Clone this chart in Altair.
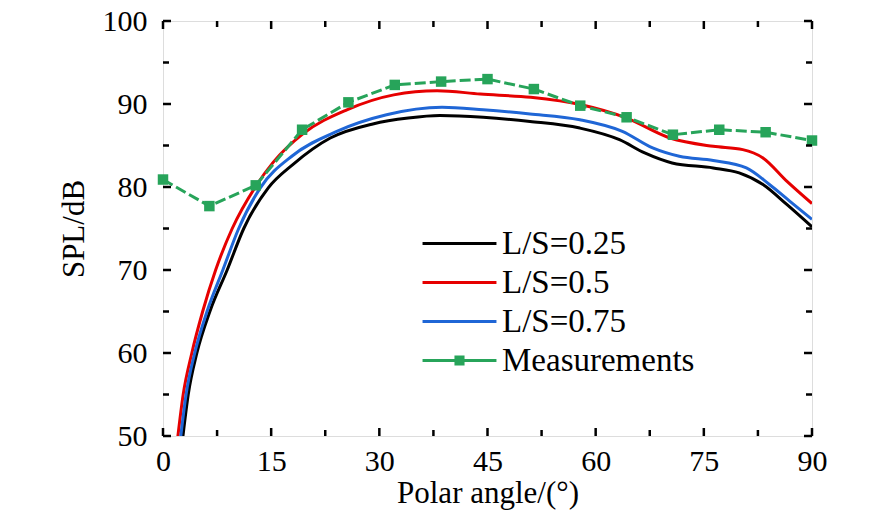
import altair as alt
import pandas as pd

# ---- data ----
series_names = ["L/S=0.25", "L/S=0.5", "L/S=0.75", "Measurements"]

ang_025 = [2.7, 3.5, 4.7, 6.5, 8.9, 11.2, 14.6, 18.0, 23.2, 29.1, 34.0, 38.4, 44.4, 50.9,
           57.8, 63.3, 66.8, 70.6, 76.3, 79.9, 83.2, 86.5, 90.0]
spl_025 = [49.5, 55.0, 60.0, 65.0, 70.0, 75.0, 79.9, 82.7, 85.9, 87.6, 88.3, 88.6, 88.4, 87.9,
           87.1, 85.7, 84.1, 82.9, 82.3, 81.7, 80.3, 77.9, 75.2]

ang_05 = [2.0, 2.8, 4.0, 5.5, 7.3, 9.6, 12.8, 15.3, 19.4, 25.5, 32.0, 38.0, 44.0, 51.0,
          58.0, 64.3, 70.3, 76.3, 80.4, 83.2, 86.5, 90.0]
spl_05 = [49.5, 55.0, 60.0, 65.0, 70.0, 75.0, 80.0, 83.0, 86.4, 89.3, 91.1, 91.6, 91.2, 90.8,
          89.9, 88.3, 85.9, 84.9, 84.5, 83.5, 80.7, 78.0]

ang_075 = [2.4, 3.2, 4.4, 6.1, 8.3, 10.5, 13.5, 18.0, 24.1, 31.0, 38.7, 44.4, 50.9, 57.8,
           63.7, 67.9, 71.6, 76.3, 80.9, 84.1, 86.9, 90.0]
spl_075 = [49.5, 55.0, 60.0, 65.0, 70.0, 75.0, 79.9, 83.8, 86.7, 88.7, 89.6, 89.3, 88.8, 88.1,
           86.7, 84.7, 83.7, 83.2, 82.3, 80.3, 78.3, 76.1]

ang_meas = [0.0, 6.43, 12.86, 19.29, 25.71, 32.14, 38.57, 45.0, 51.43, 57.86, 64.29, 70.71,
            77.14, 83.57, 90.0]
spl_meas = [80.9, 77.7, 80.2, 86.9, 90.2, 92.3, 92.7, 93.0, 91.8, 89.8, 88.4, 86.3,
            86.9, 86.6, 85.6]

x_major = [0, 15, 30, 45, 60, 75, 90]
x_minor = [7.5, 22.5, 37.5, 52.5, 67.5, 82.5]
y_major = [50, 60, 70, 80, 90, 100]
y_minor = [55, 65, 75, 85, 95]

# ---- tables ----
df_025 = pd.DataFrame({"angle": ang_025, "spl": spl_025})
df_05 = pd.DataFrame({"angle": ang_05, "spl": spl_05})
df_075 = pd.DataFrame({"angle": ang_075, "spl": spl_075})
meas = pd.DataFrame({"angle": ang_meas, "spl": spl_meas, "series": series_names[3]})
xt_major = pd.DataFrame({"v": x_major})
xt_minor = pd.DataFrame({"v": x_minor})
yt_major = pd.DataFrame({"v": y_major})
yt_minor = pd.DataFrame({"v": y_minor})

W, H = 649, 415
FONT = "Liberation Serif"
GREEN = "#27a45a"
colors = ["#000000", "#e60000", "#1f66d6", GREEN]
MAJ, MIN = 8, 6

line_path = "M-3.08,-0.13L3.08,-0.13L3.08,0.13L-3.08,0.13Z"
meas_path = ("M-3.08,-0.13L-0.42,-0.13L-0.42,-0.42L0.42,-0.42L0.42,-0.13L3.08,-0.13"
             "L3.08,0.13L0.42,0.13L0.42,0.42L-0.42,0.42L-0.42,0.13L-3.08,0.13Z")

xscale = alt.Scale(domain=[0, 90], nice=False)
yscale = alt.Scale(domain=[50, 100], nice=False)

# L/S=0.25 curve, carries the labelled axes
l025 = alt.Chart(df_025).mark_line(strokeWidth=3, clip=True, interpolate="monotone",
                                   color=colors[0]).encode(
    x=alt.X("angle:Q", scale=xscale,
            axis=alt.Axis(values=x_major, title="Polar angle/(°)", ticks=False,
                          tickSize=0, domain=False, grid=False, labelFont=FONT,
                          labelFontSize=30, labelColor="black", labelPadding=10,
                          titleFont=FONT, titleFontSize=31, titleFontWeight="normal",
                          titleColor="black", titlePadding=2, labelFlush=False)),
    y=alt.Y("spl:Q", scale=yscale,
            axis=alt.Axis(values=y_major, title="SPL/dB", ticks=False, tickSize=0,
                          domain=False, grid=False, labelFont=FONT, labelFontSize=30,
                          labelColor="black", labelPadding=16, titleFont=FONT,
                          titleFontSize=31, titleFontWeight="normal", titleColor="black",
                          titlePadding=12, labelFlush=False)),
)

l05 = alt.Chart(df_05).mark_line(strokeWidth=3, clip=True, interpolate="monotone",
                                 color=colors[1]).encode(
    x=alt.X("angle:Q", scale=xscale), y=alt.Y("spl:Q", scale=yscale))

l075 = alt.Chart(df_075).mark_line(strokeWidth=3, clip=True, interpolate="monotone",
                                   color=colors[2]).encode(
    x=alt.X("angle:Q", scale=xscale), y=alt.Y("spl:Q", scale=yscale))

# measurement dashed line and squares
meas_line = alt.Chart(meas).mark_line(strokeWidth=3, color=GREEN, strokeDash=[11, 4]).encode(
    x=alt.X("angle:Q", scale=xscale), y=alt.Y("spl:Q", scale=yscale))
meas_pts = alt.Chart(meas).mark_square(size=110, color=GREEN, opacity=1).encode(
    x=alt.X("angle:Q", scale=xscale), y=alt.Y("spl:Q", scale=yscale))


# inward tick marks on all four sides (tick marks placed through the shared scales)
def xticks(df, length, at_bottom):
    centre = H - length / 2 if at_bottom else length / 2
    return alt.Chart(df).mark_tick(orient="vertical", thickness=2.5, size=length,
                                   color="black", opacity=1).encode(
        x=alt.X("v:Q", scale=xscale), y=alt.value(centre))


def yticks(df, length, at_left):
    centre = length / 2 if at_left else W - length / 2
    return alt.Chart(df).mark_tick(orient="horizontal", thickness=2.5, size=length,
                                   color="black", opacity=1).encode(
        y=alt.Y("v:Q", scale=yscale), x=alt.value(centre))


tick_layers = [
    xticks(xt_major, MAJ, True), xticks(xt_minor, MIN, True),
    xticks(xt_major, MAJ, False), xticks(xt_minor, MIN, False),
    yticks(yt_major, MAJ, True), yticks(yt_minor, MIN, True),
    yticks(yt_major, MAJ, False), yticks(yt_minor, MIN, False),
]

# invisible points that only provide the legend
leg = alt.Legend(title=None, orient="none", legendX=280, legendY=206,
                 direction="vertical", symbolSize=576, symbolStrokeWidth=0,
                 symbolOpacity=1, labelFont=FONT, labelFontSize=33, labelColor="black",
                 labelOffset=26, rowPadding=5, padding=0, labelLimit=400)
legend_layer = alt.Chart(meas).mark_point(filled=True, opacity=0).encode(
    x=alt.X("angle:Q", scale=xscale),
    y=alt.Y("spl:Q", scale=yscale),
    color=alt.Color("series:N", scale=alt.Scale(domain=series_names, range=colors),
                    legend=leg),
    shape=alt.Shape("series:N",
                    scale=alt.Scale(domain=series_names,
                                    range=[line_path, line_path, line_path, meas_path]),
                    legend=leg),
)

chart = alt.layer(l025, l05, l075, meas_line, meas_pts, *tick_layers,
                  legend_layer).properties(
    width=W, height=H,
    autosize=alt.AutoSizeParams(type="none"),
    padding={"left": 155, "top": 13, "right": 66, "bottom": 80},
).configure_view(
    stroke="black", strokeWidth=2
).configure_legend(
    labelFont=FONT, labelFontSize=33, labelColor="black"
).configure(background="white")

chart.save("out.html", embed_options={"renderer": "svg", "actions": False})
